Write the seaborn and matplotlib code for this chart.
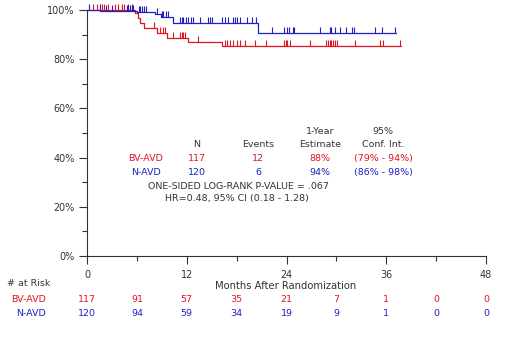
import numpy as np
import pandas as pd
import matplotlib
matplotlib.use("Agg")
import matplotlib.pyplot as plt
import seaborn as sns

# curvas de supervivencia (escalones)
arms = ["BV-AVD", "N-AVD"]
bv_times = [0, 5.8, 6.1, 6.4, 6.8, 8.4, 9.6, 12.2, 16.2, 37.8]
bv_surv = [100, 98.7, 96.7, 94.6, 92.5, 90.5, 88.7, 87.1, 85.4, 85.4]
n_times = [0, 1.6, 6.0, 8.2, 8.9, 10.4, 20.6, 37.2]
n_surv = [100, 99.7, 99.0, 98.2, 97.3, 94.8, 90.8, 90.8]

# censuras
bv_censor = [0.76, 1.16, 1.76, 2.04, 2.56, 3.36, 3.76, 4.16, 4.44, 4.97, 5.37,
             8.0, 8.8, 9.1, 9.4, 10.4, 11.2, 11.4, 11.6, 11.8, 13.4,
             16.6, 16.8, 17.2, 17.6, 18.0, 18.4, 19.0, 20.2, 21.5, 23.7, 23.9,
             24.1, 24.4, 26.8, 28.8, 29.0, 29.2, 29.4, 29.6, 29.8, 30.1, 32.2,
             35.3, 35.6, 37.7]
n_censor = [0.28, 1.56, 2.29, 2.97, 4.77, 4.97, 5.17, 5.37, 5.57,
            6.2, 6.4, 6.6, 6.8, 7.1, 8.4, 9.0, 9.2, 9.5, 9.8,
            11.2, 11.4, 11.6, 11.9, 12.2, 12.5, 12.7, 13.6, 14.6, 14.8, 15.0,
            16.2, 16.6, 17.0, 17.6, 17.8, 18.0, 18.4, 19.2, 19.8, 20.3,
            22.2, 23.7, 24.0, 24.3, 24.8, 24.9, 28.0, 29.2, 29.3, 29.8, 30.4,
            31.2, 31.9, 32.1, 34.7, 35.5, 37.1]

# tabla de resumen
col_headers_top = ["", "", "1-Year", "95%"]
col_headers = ["N", "Events", "Estimate", "Conf. Int."]
bv_row = ["117", "12", "88%", "(79% - 94%)"]
n_row = ["120", "6", "94%", "(86% - 98%)"]
pvalue_text = "ONE-SIDED LOG-RANK P-VALUE = .067"
hr_text = "HR=0.48, 95% CI (0.18 - 1.28)"

# numero en riesgo
risk_months = [0, 6, 12, 18, 24, 30, 36, 42, 48]
bv_risk = [117, 91, 57, 35, 21, 7, 1, 0, 0]
n_risk = [120, 94, 59, 34, 19, 9, 1, 0, 0]

RED = "#e0141e"
BLUE = "#1f1fc4"
GRAY = "#333333"
W, H = 520, 356

sns.set_style("ticks")
plt.rcParams["font.family"] = ["DejaVu Sans"]

fig = plt.figure(figsize=(W / 100, H / 100), dpi=100)
ax = fig.add_axes([87 / W, 1 - 256 / H, (486 - 87) / W, (256 - 10) / H])

curvas = pd.concat([
    pd.DataFrame({"months": bv_times, "surv": bv_surv, "arm": "BV-AVD"}),
    pd.DataFrame({"months": n_times, "surv": n_surv, "arm": "N-AVD"}),
])
sns.lineplot(data=curvas, x="months", y="surv", hue="arm",
             palette={"BV-AVD": RED, "N-AVD": BLUE}, drawstyle="steps-post",
             estimator=None, sort=False, legend=False, lw=0.9, ax=ax,
             clip_on=False)


def nivel(times, surv, t):
    idx = np.searchsorted(times, t, side="right") - 1
    return np.asarray(surv)[idx]


marca = [(0, 0), (0, 1)]
for times, surv, cens, col in [(bv_times, bv_surv, bv_censor, RED),
                               (n_times, n_surv, n_censor, BLUE)]:
    sns.scatterplot(x=cens, y=nivel(times, surv, cens), marker=marca, s=64,
                    color=col, edgecolor=col, linewidth=0.8, ax=ax,
                    clip_on=False, zorder=3)

ax.set_xlim(0, 48)
ax.set_ylim(0, 100)
ax.set_xticks(np.arange(0, 49, 12))
ax.set_xticks(np.arange(0, 49, 6), minor=True)
ax.set_yticks(np.arange(0, 101, 20))
ax.set_yticks(np.arange(0, 101, 10), minor=True)
ax.set_yticklabels([f"{v}%" for v in range(0, 101, 20)])
ax.set_xlabel("")
ax.set_ylabel("")
sns.despine(ax=ax)
for s in ["left", "bottom"]:
    ax.spines[s].set_color(GRAY)
    ax.spines[s].set_linewidth(0.8)
ax.tick_params(which="major", length=6, width=0.8, color=GRAY,
               labelsize=6.9, labelcolor=GRAY, pad=3)
ax.tick_params(which="minor", length=3.5, width=0.8, color=GRAY)
ax.tick_params(axis="x", pad=4)


def texto(x, y, s, color=GRAY, ha="center", size=6.8):
    fig.text(x / W, 1 - y / H, s, color=color, ha=ha, va="center", fontsize=size)


# tabla dentro del grafico
col_x = [197, 258, 320, 383]
for x, top, head in zip(col_x, col_headers_top, col_headers):
    if top:
        texto(x, 132, top)
    texto(x, 145, head)
texto(146, 159, "BV-AVD", RED)
texto(146, 172, "N-AVD", BLUE)
for x, a, b in zip(col_x, bv_row, n_row):
    texto(x, 159, a, RED)
    texto(x, 172, b, BLUE)
texto(238, 186, pvalue_text)
texto(237, 199, hr_text)

# tabla de riesgo
texto(286, 286, "Months After Randomization", size=7.2)
texto(7, 284, "# at Risk", ha="left")
texto(46, 300, "BV-AVD", RED, ha="right")
texto(46, 314, "N-AVD", BLUE, ha="right")
x0, x1 = 87, 486
for m, a, b in zip(risk_months, bv_risk, n_risk):
    px = x0 + (x1 - x0) * m / 48
    texto(px, 300, str(a), RED)
    texto(px, 314, str(b), BLUE)

fig.savefig("out.png", dpi=100)
